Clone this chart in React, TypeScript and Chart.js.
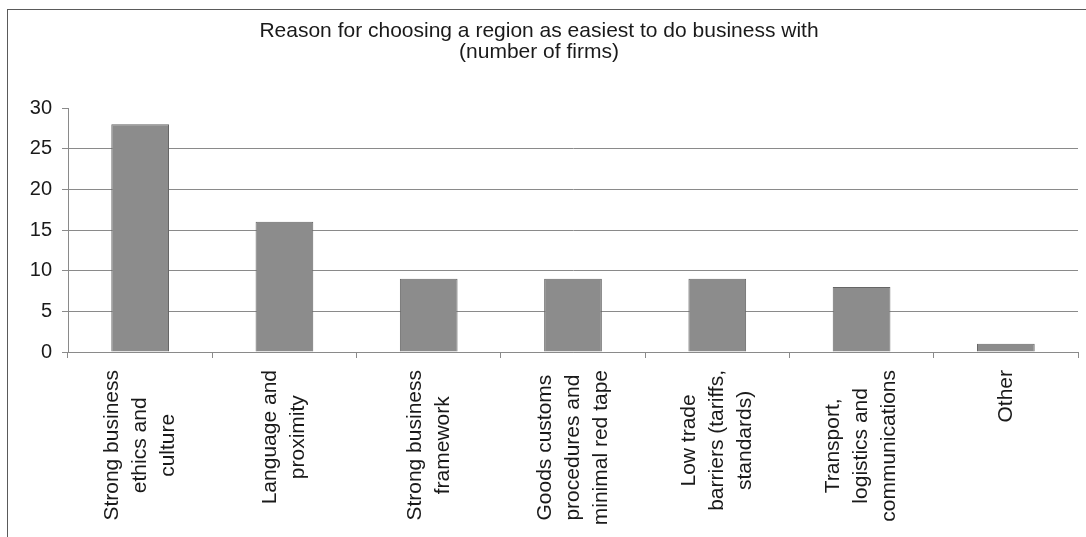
import { useEffect, useRef } from 'react';
import { Chart, registerables } from 'chart.js';

Chart.register(...registerables);

const titleLines = ['Reason for choosing a region as easiest to do business with', '(number of firms)'];
const categories: string[][] = [
  ['Strong business', 'ethics and', 'culture'],
  ['Language and', 'proximity'],
  ['Strong business', 'framework'],
  ['Goods customs', 'procedures and', 'minimal red tape'],
  ['Low trade', 'barriers (tariffs,', 'standards)'],
  ['Transport,', 'logistics and', 'communications'],
  ['Other'],
];
const firms = [28, 16, 9, 9, 9, 8, 1];
const yTicks = [0, 5, 10, 15, 20, 25, 30];

const FONT = "'Liberation Sans', Arial, sans-serif";
const TEXT = '#1a1a1a';
const LINE = '#8a8a8a';

const xLabelPlugin = {
  id: 'xLabels',
  afterDraw(chart: any) {
    const ctx = chart.ctx;
    const xs = chart.scales.x;
    const axisY = chart.chartArea.bottom;
    ctx.save();
    ctx.font = `21px ${FONT}`;
    ctx.fillStyle = TEXT;
    ctx.textAlign = 'center';
    ctx.textBaseline = 'middle';
    categories.forEach((lines, i) => {
      const x = xs.getPixelForValue(i);
      const maxW = Math.max(...lines.map((l) => ctx.measureText(l).width));
      const cy = axisY + 18 + maxW / 2;
      const n = lines.length;
      lines.forEach((line, j) => {
        const cx = x + (j - (n - 1) / 2) * 28;
        ctx.save();
        ctx.translate(cx, cy);
        ctx.rotate(-Math.PI / 2);
        ctx.fillText(line, 0, 0);
        ctx.restore();
      });
    });
    ctx.restore();
  },
};

export default function App() {
  const ref = useRef<HTMLCanvasElement>(null);
  useEffect(() => {
    if (!ref.current) return;
    const chart = new Chart(ref.current, {
      type: 'bar',
      data: {
        labels: categories.map((c) => c.join(' ')),
        datasets: [
          {
            data: firms,
            backgroundColor: '#8c8c8c',
            borderColor: '#666666',
            borderWidth: 1,
            barPercentage: 0.4,
            categoryPercentage: 1,
          },
        ],
      },
      options: {
        animation: false,
        responsive: true,
        maintainAspectRatio: false,
        layout: { padding: { left: 0, right: 8, top: 0, bottom: 0 } },
        plugins: {
          legend: { display: false },
          tooltip: { enabled: false },
          title: {
            display: true,
            text: titleLines,
            color: TEXT,
            font: { family: FONT, size: 21, weight: 'normal', lineHeight: 1.0 },
            padding: { top: 21, bottom: 45 },
          },
        },
        scales: {
          x: {
            grid: {
              offset: true,
              drawOnChartArea: false,
              drawTicks: true,
              tickLength: 6,
              tickColor: LINE,
              color: LINE,
            },
            border: { display: true, color: LINE, width: 1 },
            ticks: { display: false },
            afterFit: (scale: any) => {
              scale.height = 185;
            },
          },
          y: {
            min: 0,
            max: 30,
            afterBuildTicks: (scale: any) => {
              scale.ticks = yTicks.map((v) => ({ value: v }));
            },
            grid: {
              color: (c: any) => (c.tick && c.tick.value === 30 ? 'rgba(0,0,0,0)' : LINE),
              tickColor: LINE,
              tickLength: 6,
              lineWidth: 1,
            },
            border: { display: true, color: LINE, width: 1 },
            ticks: {
              color: TEXT,
              font: { family: FONT, size: 20 },
              padding: 10,
            },
            afterFit: (scale: any) => {
              scale.width = 68;
            },
          },
        },
      },
      plugins: [xLabelPlugin],
    });
    return () => chart.destroy();
  }, []);

  return (
    <div style={{ position: 'fixed', left: 0, top: 0, width: 1086, height: 537, background: '#fff' }}>
      <div
        style={{
          position: 'absolute',
          left: 7,
          top: 9,
          right: -4,
          bottom: -4,
          borderTop: '1.5px solid #5a5a5a',
          borderLeft: '1.5px solid #5a5a5a',
        }}
      />
      <div style={{ position: 'absolute', left: 0, top: 0, width: 1086, height: 537 }}>
        <canvas ref={ref} />
      </div>
    </div>
  );
}
